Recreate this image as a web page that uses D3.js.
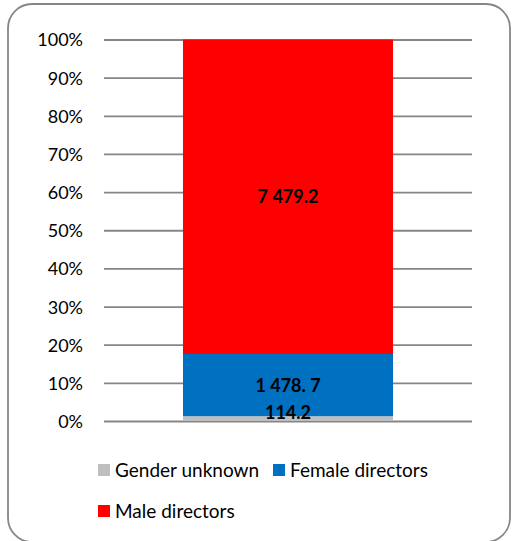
<!DOCTYPE html>
<html><head><meta charset="utf-8">
<script src="https://cdn.jsdelivr.net/npm/d3@7"></script>
<style>body{margin:0;background:#fff}svg{display:block}</style>
</head><body>
<svg id="c" width="512" height="541"></svg>
<script>
const seriesNames = ["Gender unknown", "Female directors", "Male directors"];
const seriesValues = [114.2, 1478.7, 7479.2];
const seriesLabels = ["114.2", "1 478. 7", "7 479.2"];
const seriesColors = ["#bfbfbf", "#0070c0", "#ff0000"];
const tickValues = [0, 0.1, 0.2, 0.3, 0.4, 0.5, 0.6, 0.7, 0.8, 0.9, 1.0];
const category = ["All"];

const svg = d3.select("#c");
const font = "Lato, 'Open Sans', sans-serif";

// outer border
svg.append("rect").attr("x", 8).attr("y", 4).attr("width", 502).attr("height", 538)
  .attr("rx", 24).attr("fill", "#fff").attr("stroke", "#868686").attr("stroke-width", 1.8);

const y = d3.scaleLinear().domain([0, 1]).range([421, 39.5]);
const x = d3.scaleBand().domain(category).range([104, 472]).paddingInner(0).paddingOuter(0.376);

// gridlines
const yAxis = d3.axisLeft(y).tickValues(tickValues).tickFormat(d3.format(".0%")).tickSize(-368).tickPadding(21);
const g = svg.append("g").attr("transform", "translate(104,0)").call(yAxis);
g.select(".domain").remove();
g.selectAll(".tick line").attr("stroke", "#868686").attr("stroke-width", 1.8);
g.selectAll(".tick text").attr("font-family", font).attr("font-size", 18).attr("fill", "#000").attr("dy", "0.36em");

const total = d3.sum(seriesValues);
const stackData = [Object.fromEntries(seriesNames.map((n, i) => [n, seriesValues[i] / total]))];
const stack = d3.stack().keys(seriesNames)(stackData);

stack.forEach((s, i) => {
  const d = s[0];
  svg.append("rect").attr("x", x("All")).attr("width", x.bandwidth())
    .attr("y", y(d[1])).attr("height", y(d[0]) - y(d[1])).attr("fill", seriesColors[i]);
});
stack.forEach((s, i) => {
  const d = s[0];
  let cy = (y(d[0]) + y(d[1])) / 2;
  if (i === 0) cy = 413;
  svg.append("text").attr("x", x("All") + x.bandwidth() / 2).attr("y", cy).attr("dy", "0.36em")
    .attr("text-anchor", "middle").attr("font-family", font).attr("font-weight", "bold")
    .attr("font-size", 18).attr("fill", "#000").text(seriesLabels[i]);
});

// legend
const legendPos = [[98, 464], [273, 464], [98, 505]];
seriesNames.forEach((n, i) => {
  const [lx, ly] = legendPos[i];
  svg.append("rect").attr("x", lx).attr("y", ly).attr("width", 12).attr("height", 12).attr("fill", seriesColors[i]);
  svg.append("text").attr("x", lx + 17).attr("y", ly + 6).attr("dy", "0.36em")
    .attr("font-family", font).attr("font-size", 19).attr("fill", "#000").text(n);
});
</script>
</body></html>
